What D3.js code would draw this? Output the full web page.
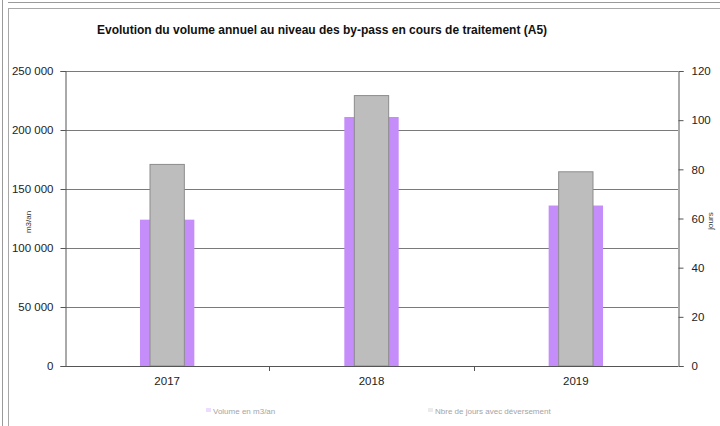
<!DOCTYPE html>
<html>
<head>
<meta charset="utf-8">
<script src="https://cdn.jsdelivr.net/npm/d3@7/dist/d3.min.js"></script>
<style>
  html, body { margin: 0; padding: 0; background: #fff; }
  svg { display: block; font-family: "Liberation Sans", Arial, sans-serif; }
</style>
</head>
<body>
<svg id="chart" width="720" height="426"></svg>
<script>
// Annual by-pass volume (m3/an) and number of overflow days
const years = ["2017", "2018", "2019"];
const volume = [124000, 211000, 136000];
const days = [82, 110, 79];
const leftTicks = [0, 50000, 100000, 150000, 200000, 250000];
const rightTicks = [0, 20, 40, 60, 80, 100, 120];
const seriesNames = ["Volume en m3/an", "Nbre de jours avec déversement"];

const svg = d3.select("#chart");
const plot = { left: 65, right: 678, top: 71, bottom: 366 };

// frame lines around the chart area
svg.append("line").attr("x1", 2.5).attr("x2", 2.5).attr("y1", 0).attr("y2", 426)
  .attr("stroke", "#9a9a9a");
svg.append("line").attr("x1", 8).attr("x2", 720).attr("y1", 2.5).attr("y2", 2.5)
  .attr("stroke", "#9a9a9a");
svg.append("rect").attr("x", 8.5).attr("y", 8.5).attr("width", 720).attr("height", 430)
  .attr("fill", "none").attr("stroke", "#a8a8a8");

const x = d3.scaleBand().domain(years).range([plot.left, plot.right]).padding(0);
const yL = d3.scaleLinear().domain([0, 250000]).range([plot.bottom, plot.top]);
const yR = d3.scaleLinear().domain([0, 120]).range([plot.bottom, plot.top]);

const fmt = v => d3.format(",")(v).replace(/,/g, " ");

// horizontal gridlines on the volume axis
svg.append("g").selectAll("line").data(leftTicks.slice(1)).join("line")
  .attr("x1", plot.left).attr("x2", plot.right)
  .attr("y1", d => Math.round(yL(d)) + 0.5).attr("y2", d => Math.round(yL(d)) + 0.5)
  .attr("stroke", "#7a7a7a").attr("stroke-width", 1);

// volume bars (wide, purple)
const wVol = x.bandwidth() * 0.266;
svg.append("g").selectAll("rect").data(years).join("rect")
  .attr("x", (d, i) => x(d) + x.bandwidth() / 2 - wVol / 2)
  .attr("y", (d, i) => yL(volume[i]))
  .attr("width", wVol)
  .attr("height", (d, i) => yL(0) - yL(volume[i]))
  .attr("fill", "#c48df9");

// days bars (narrow, grey) on the secondary axis
const wDays = x.bandwidth() * 0.168;
svg.append("g").selectAll("rect").data(years).join("rect")
  .attr("x", (d, i) => x(d) + x.bandwidth() / 2 - wDays / 2)
  .attr("y", (d, i) => yR(days[i]))
  .attr("width", wDays)
  .attr("height", (d, i) => yR(0) - yR(days[i]))
  .attr("fill", "#bdbdbd").attr("stroke", "#8c8c8c").attr("stroke-width", 1);

// left axis
const axL = svg.append("g").attr("transform", `translate(${plot.left + 0.5},0)`)
  .call(d3.axisLeft(yL).tickValues(leftTicks).tickFormat(fmt).tickSize(5).tickPadding(7));
// right axis
const axR = svg.append("g").attr("transform", `translate(${plot.right + 0.5},0)`)
  .call(d3.axisRight(yR).tickValues(rightTicks).tickSize(5).tickPadding(8));
// bottom axis with ticks at category boundaries
const axB = svg.append("g").attr("transform", `translate(0,${plot.bottom + 0.5})`)
  .call(d3.axisBottom(x).tickSize(0).tickPadding(10));
svg.append("g").selectAll("line").data(years.slice(1)).join("line")
  .attr("x1", d => Math.round(x(d)) + 0.5).attr("x2", d => Math.round(x(d)) + 0.5)
  .attr("y1", plot.bottom).attr("y2", plot.bottom + 5)
  .attr("stroke", "#555");

[axL, axR, axB].forEach(a => {
  a.select(".domain").attr("stroke", "#555");
  a.selectAll(".tick line").attr("stroke", "#555");
  a.selectAll("text").attr("font-size", 11.5).attr("fill", "#222")
    .attr("font-family", "\"Liberation Sans\", Arial, sans-serif");
});
axB.select(".domain").attr("d", `M${plot.left},0H${plot.right}`);

// axis titles
svg.append("text").attr("transform", "translate(31,222) rotate(-90)")
  .attr("text-anchor", "middle").attr("font-size", 8).attr("fill", "#333").text("m3/an");
svg.append("text").attr("transform", "translate(713,221) rotate(-90)")
  .attr("text-anchor", "middle").attr("font-size", 8).attr("fill", "#333").text("jours");

// title
svg.append("text").attr("x", 97).attr("y", 34)
  .attr("font-size", 12).attr("font-weight", "bold").attr("fill", "#111")
  .text("Evolution du volume annuel au niveau des by-pass en cours de traitement (A5)");

// legend (faint)
const legend = svg.append("g").attr("opacity", 0.6);
const legendX = [213, 435];
const legendColors = ["#c48df9", "#bdbdbd"];
seriesNames.forEach((name, i) => {
  legend.append("rect").attr("x", legendX[i] - 7).attr("y", 408).attr("width", 5).attr("height", 4)
    .attr("fill", legendColors[i]).attr("opacity", 0.5);
  legend.append("text").attr("x", legendX[i]).attr("y", 414)
    .attr("font-size", 8).attr("fill", "#666").text(name);
});
</script>
</body>
</html>
